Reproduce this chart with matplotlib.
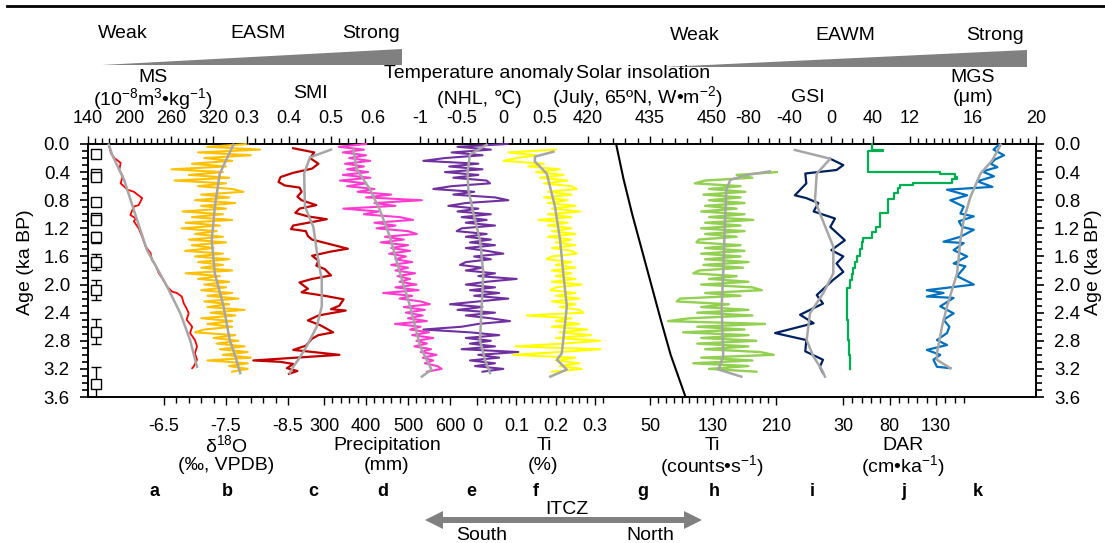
import matplotlib.pyplot as plt
from matplotlib.ticker import MultipleLocator, FormatStrFormatter
from matplotlib.patches import Polygon

plt.rcParams['font.family'] = ['Liberation Sans', 'DejaVu Sans']
plt.rcParams['mathtext.fontset'] = 'custom'
plt.rcParams['mathtext.rm'] = 'Liberation Sans'
plt.rcParams['mathtext.it'] = 'Liberation Sans:italic'
plt.rcParams['mathtext.bf'] = 'Liberation Sans:bold'

# ---------------- data (age in ka BP) ----------------
age_fine = [0.00, 0.04, 0.08, 0.12, 0.16, 0.20, 0.24, 0.28, 0.32, 0.36,
            0.40, 0.44, 0.48, 0.52, 0.56, 0.60, 0.64, 0.68, 0.72, 0.76,
            0.80, 0.84, 0.88, 0.92, 0.96, 1.00, 1.04, 1.08, 1.12, 1.16,
            1.20, 1.24, 1.28, 1.32, 1.36, 1.40, 1.44, 1.48, 1.52, 1.56,
            1.60, 1.64, 1.68, 1.72, 1.76, 1.80, 1.84, 1.88, 1.92, 1.96,
            2.00, 2.04, 2.08, 2.12, 2.16, 2.20, 2.24, 2.28, 2.32, 2.36,
            2.40, 2.44, 2.48, 2.52, 2.56, 2.60, 2.64, 2.68, 2.72, 2.76,
            2.80, 2.84, 2.88, 2.92, 2.96, 3.00, 3.04, 3.08, 3.12, 3.16,
            3.20, 3.24]

# a: MS
ms_age = [0.01, 0.13, 0.20, 0.23, 0.27, 0.37, 0.46, 0.56, 0.65, 0.68,
          0.77, 0.87, 0.89, 1.01, 1.06, 1.10, 1.20, 1.32, 1.46, 1.55,
          1.65, 1.72, 1.84, 1.91, 2.03, 2.10, 2.12, 2.17, 2.27, 2.34,
          2.41, 2.50, 2.60, 2.69, 2.79, 2.88, 2.98, 3.07, 3.17, 3.19]
ms_val = [170, 173, 178, 182, 187, 185, 190, 187, 197, 206,
          218, 213, 206, 201, 209, 206, 213, 218, 223, 230,
          232, 237, 242, 247, 254, 261, 268, 275, 278, 282,
          285, 282, 290, 287, 294, 297, 294, 297, 292, 290]
ms_s_age = [0.01, 0.16, 0.51, 0.94, 1.51, 2.03, 2.41, 2.79, 3.17]
ms_s_val = [170, 175, 192, 206, 225, 254, 273, 287, 297]

# b: d18O
d18o_val = [-7.85, -7.20, -8.05, -7.05, -7.90, -7.15, -7.60, -6.95, -7.50, -6.62,
            -7.45, -6.90, -7.55, -6.67, -7.50, -7.05, -7.60, -7.78, -7.10, -7.55,
            -7.00, -7.65, -7.10, -7.50, -6.80, -7.45, -6.95, -7.60, -6.85, -7.40,
            -6.78, -7.35, -7.00, -7.45, -6.90, -7.50, -6.95, -7.30, -6.84, -7.45,
            -7.00, -7.55, -7.05, -7.45, -7.10, -7.60, -6.85, -7.40, -7.05, -7.55,
            -7.15, -7.50, -7.10, -7.60, -7.20, -7.70, -7.15, -7.55, -7.20, -7.80,
            -7.25, -7.65, -7.10, -7.60, -7.20, -7.60, -7.15, -7.00, -7.65, -7.30,
            -7.70, -7.35, -7.80, -7.40, -7.85, -7.45, -7.90, -7.20, -7.85, -7.55,
            -7.85, -7.60]
d18o_s_age = [0.01, 0.42, 0.89, 1.37, 1.84, 2.31, 2.79, 3.02, 3.26]
d18o_s_val = [-7.62, -7.40, -7.32, -7.27, -7.32, -7.46, -7.56, -7.65, -7.73]

# c: SMI
smi_age = [0.06, 0.12, 0.20, 0.28, 0.35, 0.41, 0.47, 0.54, 0.59, 0.62,
           0.68, 0.75, 0.80, 0.87, 0.92, 0.98, 1.03, 1.07, 1.11, 1.16,
           1.21, 1.24, 1.31, 1.36, 1.49, 1.53, 1.59, 1.66, 1.73, 1.78,
           1.87, 1.92, 1.97, 2.06, 2.11, 2.16, 2.21, 2.30, 2.35, 2.37,
           2.44, 2.51, 2.58, 2.68, 2.72, 2.77, 2.87, 2.93, 3.00, 3.08,
           3.10, 3.13, 3.19, 3.23, 3.27]
smi_val = [0.41, 0.46, 0.45, 0.47, 0.455, 0.41, 0.38, 0.375, 0.39, 0.425,
           0.43, 0.42, 0.43, 0.465, 0.425, 0.415, 0.445, 0.49, 0.455, 0.41,
           0.405, 0.44, 0.445, 0.455, 0.54, 0.50, 0.455, 0.47, 0.465, 0.485,
           0.50, 0.455, 0.425, 0.445, 0.43, 0.485, 0.53, 0.52, 0.50, 0.535,
           0.47, 0.445, 0.475, 0.505, 0.47, 0.455, 0.44, 0.41, 0.52, 0.315,
           0.38, 0.41, 0.395, 0.42, 0.40]
smi_s_age = [0.08, 0.19, 0.42, 0.89, 1.18, 1.56, 1.93, 2.31, 2.60, 2.88, 3.07, 3.17, 3.26]
smi_s_val = [0.50, 0.45, 0.436, 0.438, 0.458, 0.467, 0.478, 0.478, 0.466, 0.442, 0.422, 0.41, 0.402]

# d: precipitation
prec_val = [400, 335, 395, 345, 400, 360, 410, 350, 395, 355,
            405, 345, 410, 338, 400, 355, 420, 380, 460, 400,
            533, 420, 470, 346, 430, 395, 480, 512, 420, 470,
            425, 500, 521, 445, 490, 435, 500, 460, 505, 455,
            495, 470, 510, 460, 500, 470, 517, 475, 505, 480,
            520, 470, 525, 441, 510, 480, 530, 552, 490, 540,
            495, 535, 500, 545, 469, 530, 505, 550, 510, 560,
            520, 545, 515, 555, 530, 568, 535, 560, 540, 570,
            580, 545]
prec_s_age = [0.08, 0.36, 0.65, 0.94, 1.32, 1.84, 2.31, 2.88, 3.21, 3.31]
prec_s_val = [370, 378, 410, 433, 457, 481, 505, 529, 556, 533]

# e: temperature anomaly
temp_val = [0.05, -0.55, -0.15, -0.62, -0.25, -0.70, -0.96, -0.30, -0.65, -0.25,
            -0.70, -0.30, -0.60, -0.20, -0.16, -0.62, -0.84, -0.35, -0.60, -0.10,
            0.06, -0.45, -0.66, -0.30, -0.55, -0.15, -0.50, -0.20, -0.45, -0.10,
            -0.50, -0.56, -0.20, -0.45, -0.15, -0.40, -0.10, -0.45, -0.20, 0.00,
            -0.35, -0.15, -0.45, -0.52, -0.25, -0.45, -0.10, -0.30, 0.16, -0.20,
            -0.45, -0.10, -0.40, -0.05, -0.35, 0.06, -0.30, -0.64, -0.25, -0.55,
            -0.10, -0.45, -0.15, 0.08, -0.30, -0.50, -0.96, -0.40, -0.05, -0.45,
            -0.15, -0.40, -0.10, -0.50, 0.18, -0.30, -0.05, -0.40, -0.10, -0.34,
            0.00, -0.25]
temp_s_age = [0.01, 0.15, 0.40, 0.65, 0.98, 1.37, 1.84, 2.31, 2.79, 3.07, 3.26]
temp_s_val = [-0.20, -0.40, -0.43, -0.42, -0.36, -0.28, -0.24, -0.26, -0.28, -0.22, -0.16]

# f: Ti (%), from 0.08 ka
tip_val = [0.20, 0.08, 0.15, 0.10, 0.067, 0.17, 0.13, 0.21, 0.15, 0.22,
           0.16, 0.23, 0.17, 0.24, 0.253, 0.18, 0.24, 0.17, 0.23, 0.18,
           0.25, 0.19, 0.262, 0.18, 0.24, 0.156, 0.23, 0.18, 0.24, 0.19,
           0.25, 0.18, 0.24, 0.20, 0.25, 0.19, 0.24, 0.253, 0.19, 0.177,
           0.24, 0.20, 0.25, 0.19, 0.24, 0.20, 0.25, 0.19, 0.266, 0.20,
           0.186, 0.25, 0.20, 0.26, 0.19, 0.25, 0.21, 0.26, 0.27, 0.126,
           0.24, 0.20, 0.26, 0.19, 0.28, 0.21, 0.29, 0.20, 0.313, 0.22,
           0.097, 0.313, 0.21, 0.092, 0.25, 0.20, 0.26, 0.21, 0.266, 0.19]
tip_s_age = [0.11, 0.18, 0.25, 0.42, 0.89, 1.37, 1.84, 2.31, 2.79, 2.98, 3.07, 3.21, 3.31]
tip_s_val = [0.194, 0.147, 0.147, 0.177, 0.198, 0.211, 0.219, 0.228, 0.219, 0.215, 0.203, 0.228, 0.186]

# g: July 65N insolation
ins_age = [0.0, 0.5, 1.0, 1.5, 2.0, 2.5, 3.0, 3.6]
ins_val = [426.8, 428.6, 430.7, 433.0, 435.3, 437.6, 440.0, 443.6]

# h: Ti (counts/s), from 0.40 ka
tic_val = [211, 160, 180, 120, 107, 165, 125, 171, 118, 165,
           125, 170, 120, 160, 115, 170, 125, 181, 120, 165,
           115, 170, 120, 160, 112, 109, 165, 120, 170, 115,
           165, 120, 175, 118, 168, 112, 105, 160, 125, 175,
           115, 180, 192, 120, 165, 88, 84, 150, 115, 175,
           110, 180, 100, 73, 196, 110, 170, 92, 175, 115,
           185, 110, 175, 120, 190, 207, 115, 180, 105, 175,
           125, 185]
tic_s_age = [0.39, 0.44, 0.51, 0.65, 1.13, 1.84, 2.31, 3.02, 3.21, 3.31]
tic_s_val = [202, 173, 152, 147, 145, 143, 141, 143, 137, 166]

# i: GSI
gsi_age = [0.21, 0.30, 0.37, 0.42, 0.56, 0.73, 0.77, 0.84, 0.96, 1.06,
           1.18, 1.37, 1.51, 1.60, 1.70, 1.82, 1.93, 2.15, 2.27, 2.43,
           2.55, 2.69, 2.79, 2.95, 3.07, 3.17, 3.26]
gsi_val = [-1, 11.5, 5, -25, -24, -35, -24, -12.5, -17, 3.5,
           -1, 13, 0, 11.5, 5, 11.5, 2, -14, -8, -30,
           -17, -54, -24, -25, -8, -11, -8]
gsi_s_age = [0.085, 0.21, 0.42, 0.80, 0.99, 1.46, 1.84, 2.12, 2.41, 2.79, 3.02, 3.21, 3.31]
gsi_s_val = [-35, -1, -14, -15.7, -10.9, 1.9, 1.9, -7.7, -20.5, -23.7, -17.3, -9.2, -6.1]

# j: DAR
dar_age = [0.00, 0.08, 0.10, 0.13, 0.40, 0.42, 0.47, 0.50, 0.55, 0.58,
           0.63, 0.70, 0.78, 0.85, 0.98, 1.05, 1.18, 1.25, 1.34, 1.40,
           1.50, 1.60, 1.68, 1.77, 1.85, 1.93, 2.05, 2.24, 2.50, 2.79,
           3.00, 3.20]
dar_val = [60.8, 60.8, 73, 57, 57, 134, 150, 152, 147, 105,
           91, 89.5, 85, 78.8, 78.8, 69.8, 69.8, 65, 60.8, 51.8,
           50, 48, 45, 42.9, 41, 39.4, 37, 34, 34.5, 35.7,
           36.5, 37.5]

# k: MGS
mgs_age = [0.01, 0.08, 0.16, 0.22, 0.28, 0.33, 0.39, 0.46, 0.53, 0.61,
           0.65, 0.73, 0.80, 0.89, 0.99, 1.03, 1.10, 1.18, 1.22, 1.32,
           1.39, 1.41, 1.51, 1.60, 1.70, 1.74, 1.88, 2.00, 2.08, 2.12,
           2.17, 2.19, 2.31, 2.41, 2.50, 2.60, 2.69, 2.79, 2.86, 2.93,
           3.00, 3.07, 3.17, 3.19]
mgs_val = [17.65, 17.3, 17.97, 17.4, 17.12, 17.55, 16.59, 17.33, 16.27, 17.23,
           14.35, 15.63, 14.56, 15.41, 15.2, 16.05, 15.1, 15.31, 16.05, 15.2,
           14.13, 15.41, 14.77, 15.63, 14.77, 15.52, 14.99, 16.05, 13.07, 14.13,
           13.07, 14.77, 13.92, 14.77, 14.13, 14.5, 14.35, 13.71, 14.35, 13.07,
           13.92, 13.49, 13.71, 14.56]
mgs_s_age = [0.01, 0.23, 0.42, 0.75, 1.08, 1.37, 1.84, 2.31, 2.60, 2.98, 3.07, 3.19]
mgs_s_val = [17.76, 17.23, 16.48, 15.84, 15.41, 15.2, 14.99, 14.35, 14.03, 13.71, 13.71, 14.56]

# dating points (ka) and 2-sigma
date_age = [0.14, 0.42, 0.47, 0.83, 1.05, 1.08, 1.33, 1.68, 2.08, 2.67, 3.41]
date_err = [0.02, 0.02, 0.02, 0.03, 0.03, 0.04, 0.08, 0.11, 0.14, 0.18, 0.23]

# ---------------- figure ----------------
W, H = 1105, 543
TOP, BOT = 144, 397
GREY = '#A6A6A6'
fig = plt.figure(figsize=(W / 100, H / 100), dpi=100)

ov = fig.add_axes([0, 0, 1, 1])
ov.set_xlim(0, W)
ov.set_ylim(H, 0)
ov.axis('off')


def box(x0, x1):
    return [x0 / W, 1 - BOT / H, (x1 - x0) / W, (BOT - TOP) / H]


frame = fig.add_axes(box(88, 1036))
frame.patch.set_visible(False)
frame.set_xlim(0, 1)
frame.set_ylim(3.6, 0)
frame.set_xticks([])
frame.yaxis.set_major_locator(MultipleLocator(0.4))
frame.yaxis.set_minor_locator(MultipleLocator(0.1))
frame.yaxis.set_major_formatter(FormatStrFormatter('%.1f'))
frame.tick_params(axis='y', which='both', direction='out', left=True, right=True,
                  labelleft=True, labelright=True, labelsize=13.5, pad=7, width=1.2)
frame.tick_params(axis='y', which='major', length=6)
frame.tick_params(axis='y', which='minor', length=4)
for sp in frame.spines.values():
    sp.set_linewidth(1.4)

frame.errorbar([0.008] * len(date_age), date_age, yerr=date_err, fmt='s', ms=6.5,
               mfc='white', mec='black', mew=1, ecolor='black', elinewidth=1,
               capsize=3.5, capthick=1)


def panel(x0, x1, lim, side, majors, labels, minor, offset=0.0):
    ax = fig.add_axes(box(x0, x1))
    ax.patch.set_visible(False)
    ax.set_xlim(*lim)
    ax.set_ylim(3.6, 0)
    for sp in ax.spines.values():
        sp.set_visible(False)
    ax.set_yticks([])
    ax.set_xticks(majors, labels)
    ax.xaxis.set_minor_locator(MultipleLocator(minor, offset))
    top = side == 'top'
    ax.tick_params(axis='x', which='both', direction='out', top=top, labeltop=top,
                   bottom=not top, labelbottom=not top, labelsize=13, width=1,
                   pad=6 if top else 9)
    ax.tick_params(axis='x', which='major', length=6)
    ax.tick_params(axis='x', which='minor', length=4)
    return ax


def trace(ax, x, y, color, lw=1.5, **kw):
    ax.plot(x, y, color=color, lw=lw, clip_on=False, **kw)


ax_a = panel(88, 213, (140, 320), 'top', [140, 200, 260, 320], ['140', '200', '260', '320'], 10)
trace(ax_a, ms_val, ms_age, '#FF0000', lw=1.3)
trace(ax_a, ms_s_val, ms_s_age, GREY, lw=1.8)

ax_b = panel(164, 288, (-6.5, -8.5), 'bottom', [-6.5, -7.5, -8.5], ['-6.5', '-7.5', '-8.5'], 0.2, 0.1)
trace(ax_b, d18o_val, age_fine, '#FFC000')
trace(ax_b, d18o_s_val, d18o_s_age, GREY, lw=1.8)

ax_c = panel(247, 373, (0.3, 0.6), 'top', [0.3, 0.4, 0.5, 0.6], ['0.3', '0.4', '0.5', '0.6'], 0.02)
trace(ax_c, smi_val, smi_age, '#C00000', lw=1.6)
trace(ax_c, smi_s_val, smi_s_age, GREY, lw=1.8)

ax_d = panel(324, 450, (300, 600), 'bottom', [300, 400, 500, 600], ['300', '400', '500', '600'], 20)
trace(ax_d, prec_val, age_fine, '#FF3BD0')
trace(ax_d, prec_s_val, prec_s_age, GREY, lw=1.8)

ax_e = panel(420, 545, (-1, 0.5), 'top', [-1, -0.5, 0, 0.5], ['-1', '-0.5', '0', '0.5'], 0.1)
trace(ax_e, temp_val, age_fine, '#7030A0')
trace(ax_e, temp_s_val, temp_s_age, GREY, lw=1.8)

ax_f = panel(477, 607, (0, 0.33), 'bottom', [0, 0.1, 0.2, 0.3], ['0', '0.1', '0.2', '0.3'], 0.02)
trace(ax_f, tip_val, age_fine[2:], '#FFFF00')
trace(ax_f, tip_s_val, tip_s_age, GREY, lw=1.8)

ax_g = panel(588, 712, (420, 450), 'top', [420, 435, 450], ['420', '435', '450'], 3)
trace(ax_g, ins_val, ins_age, 'black', lw=1.5)

ax_h = panel(650, 776, (50, 210), 'bottom', [50, 130, 210], ['50', '130', '210'], 10)
trace(ax_h, tic_val, age_fine[10:], '#92D050', lw=1.7)
trace(ax_h, tic_s_val, tic_s_age, GREY, lw=1.8)

ax_i = panel(748, 873, (-80, 40), 'top', [-80, -40, 0, 40], ['-80', '-40', '0', '40'], 10)
trace(ax_i, gsi_val, gsi_age, '#002060', lw=1.6)
trace(ax_i, gsi_s_val, gsi_s_age, GREY, lw=1.8)

ax_j = panel(843, 964, (30, 160), 'bottom', [30, 80, 130], ['30', '80', '130'], 10)
trace(ax_j, dar_val, dar_age, '#00B050', lw=1.6, drawstyle='steps-post')

ax_k = panel(910, 1036, (12, 20), 'top', [12, 16, 20], ['12', '16', '20'], 0.5)
trace(ax_k, mgs_val, mgs_age, '#0070C0', lw=1.6)
trace(ax_k, mgs_s_val, mgs_s_age, GREY, lw=1.8)

# ---------------- decorations (pixel coordinates) ----------------
ov.plot([7, 1105], [6, 6], color='black', lw=2)
ov.add_patch(Polygon([(102, 65), (402, 49), (402, 65)], closed=True, fc='#808080', ec='none'))
ov.add_patch(Polygon([(664, 67), (1027, 50), (1027, 67)], closed=True, fc='#808080', ec='none'))
ov.add_patch(Polygon([(425, 520), (443, 511), (443, 517), (684, 517), (684, 511), (702, 520),
                      (684, 529), (684, 523), (443, 523), (443, 529)], closed=True,
                     fc='#808080', ec='none'))

texts = [
    (123, 34, 'Weak'), (258, 34, 'EASM'), (371, 34, 'Strong'),
    (695, 36, 'Weak'), (845, 36, 'EAWM'), (995, 36, 'Strong'),
    (153, 78, 'MS'), (153, 99, '(10$^{-8}$m$^{3}$•kg$^{-1}$)'),
    (310, 93, 'SMI'),
    (479, 74, 'Temperature anomaly'), (479, 99, '(NHL, ℃)'),
    (643, 74, 'Solar insolation'), (637, 97, '(July, 65ºN, W•m$^{-2}$)'),
    (808, 97, 'GSI'),
    (973, 77, 'MGS'), (973, 98, '(μm)'),
    (226, 445, 'δ$^{18}$O'), (226, 466, '(‰, VPDB)'),
    (387, 445, 'Precipitation'), (387, 466, '(mm)'),
    (544, 445, 'Ti'), (543, 466, '(%)'),
    (712, 445, 'Ti'), (712, 466, '(counts•s$^{-1}$)'),
    (903, 445, 'DAR'), (903, 466, '(cm•ka$^{-1}$)'),
    (567, 509, 'ITCZ'), (482, 535, 'South'), (650, 535, 'North'),
]
for x, y, s in texts:
    ov.text(x, y, s, ha='center', va='center', fontsize=14)

letters = [(154, 'a'), (227, 'b'), (313, 'c'), (383, 'd'), (471, 'e'), (536, 'f'),
           (643, 'g'), (714, 'h'), (812, 'i'), (904, 'j'), (978, 'k')]
for x, s in letters:
    ov.text(x, 492, s, ha='center', va='center', fontsize=13, fontweight='bold')

ov.text(25, 262, 'Age (ka BP)', rotation=90, ha='center', va='center', fontsize=14)
ov.text(1093, 262, 'Age (ka BP)', rotation=90, ha='center', va='center', fontsize=14)

fig.savefig('out.png', dpi=100)
